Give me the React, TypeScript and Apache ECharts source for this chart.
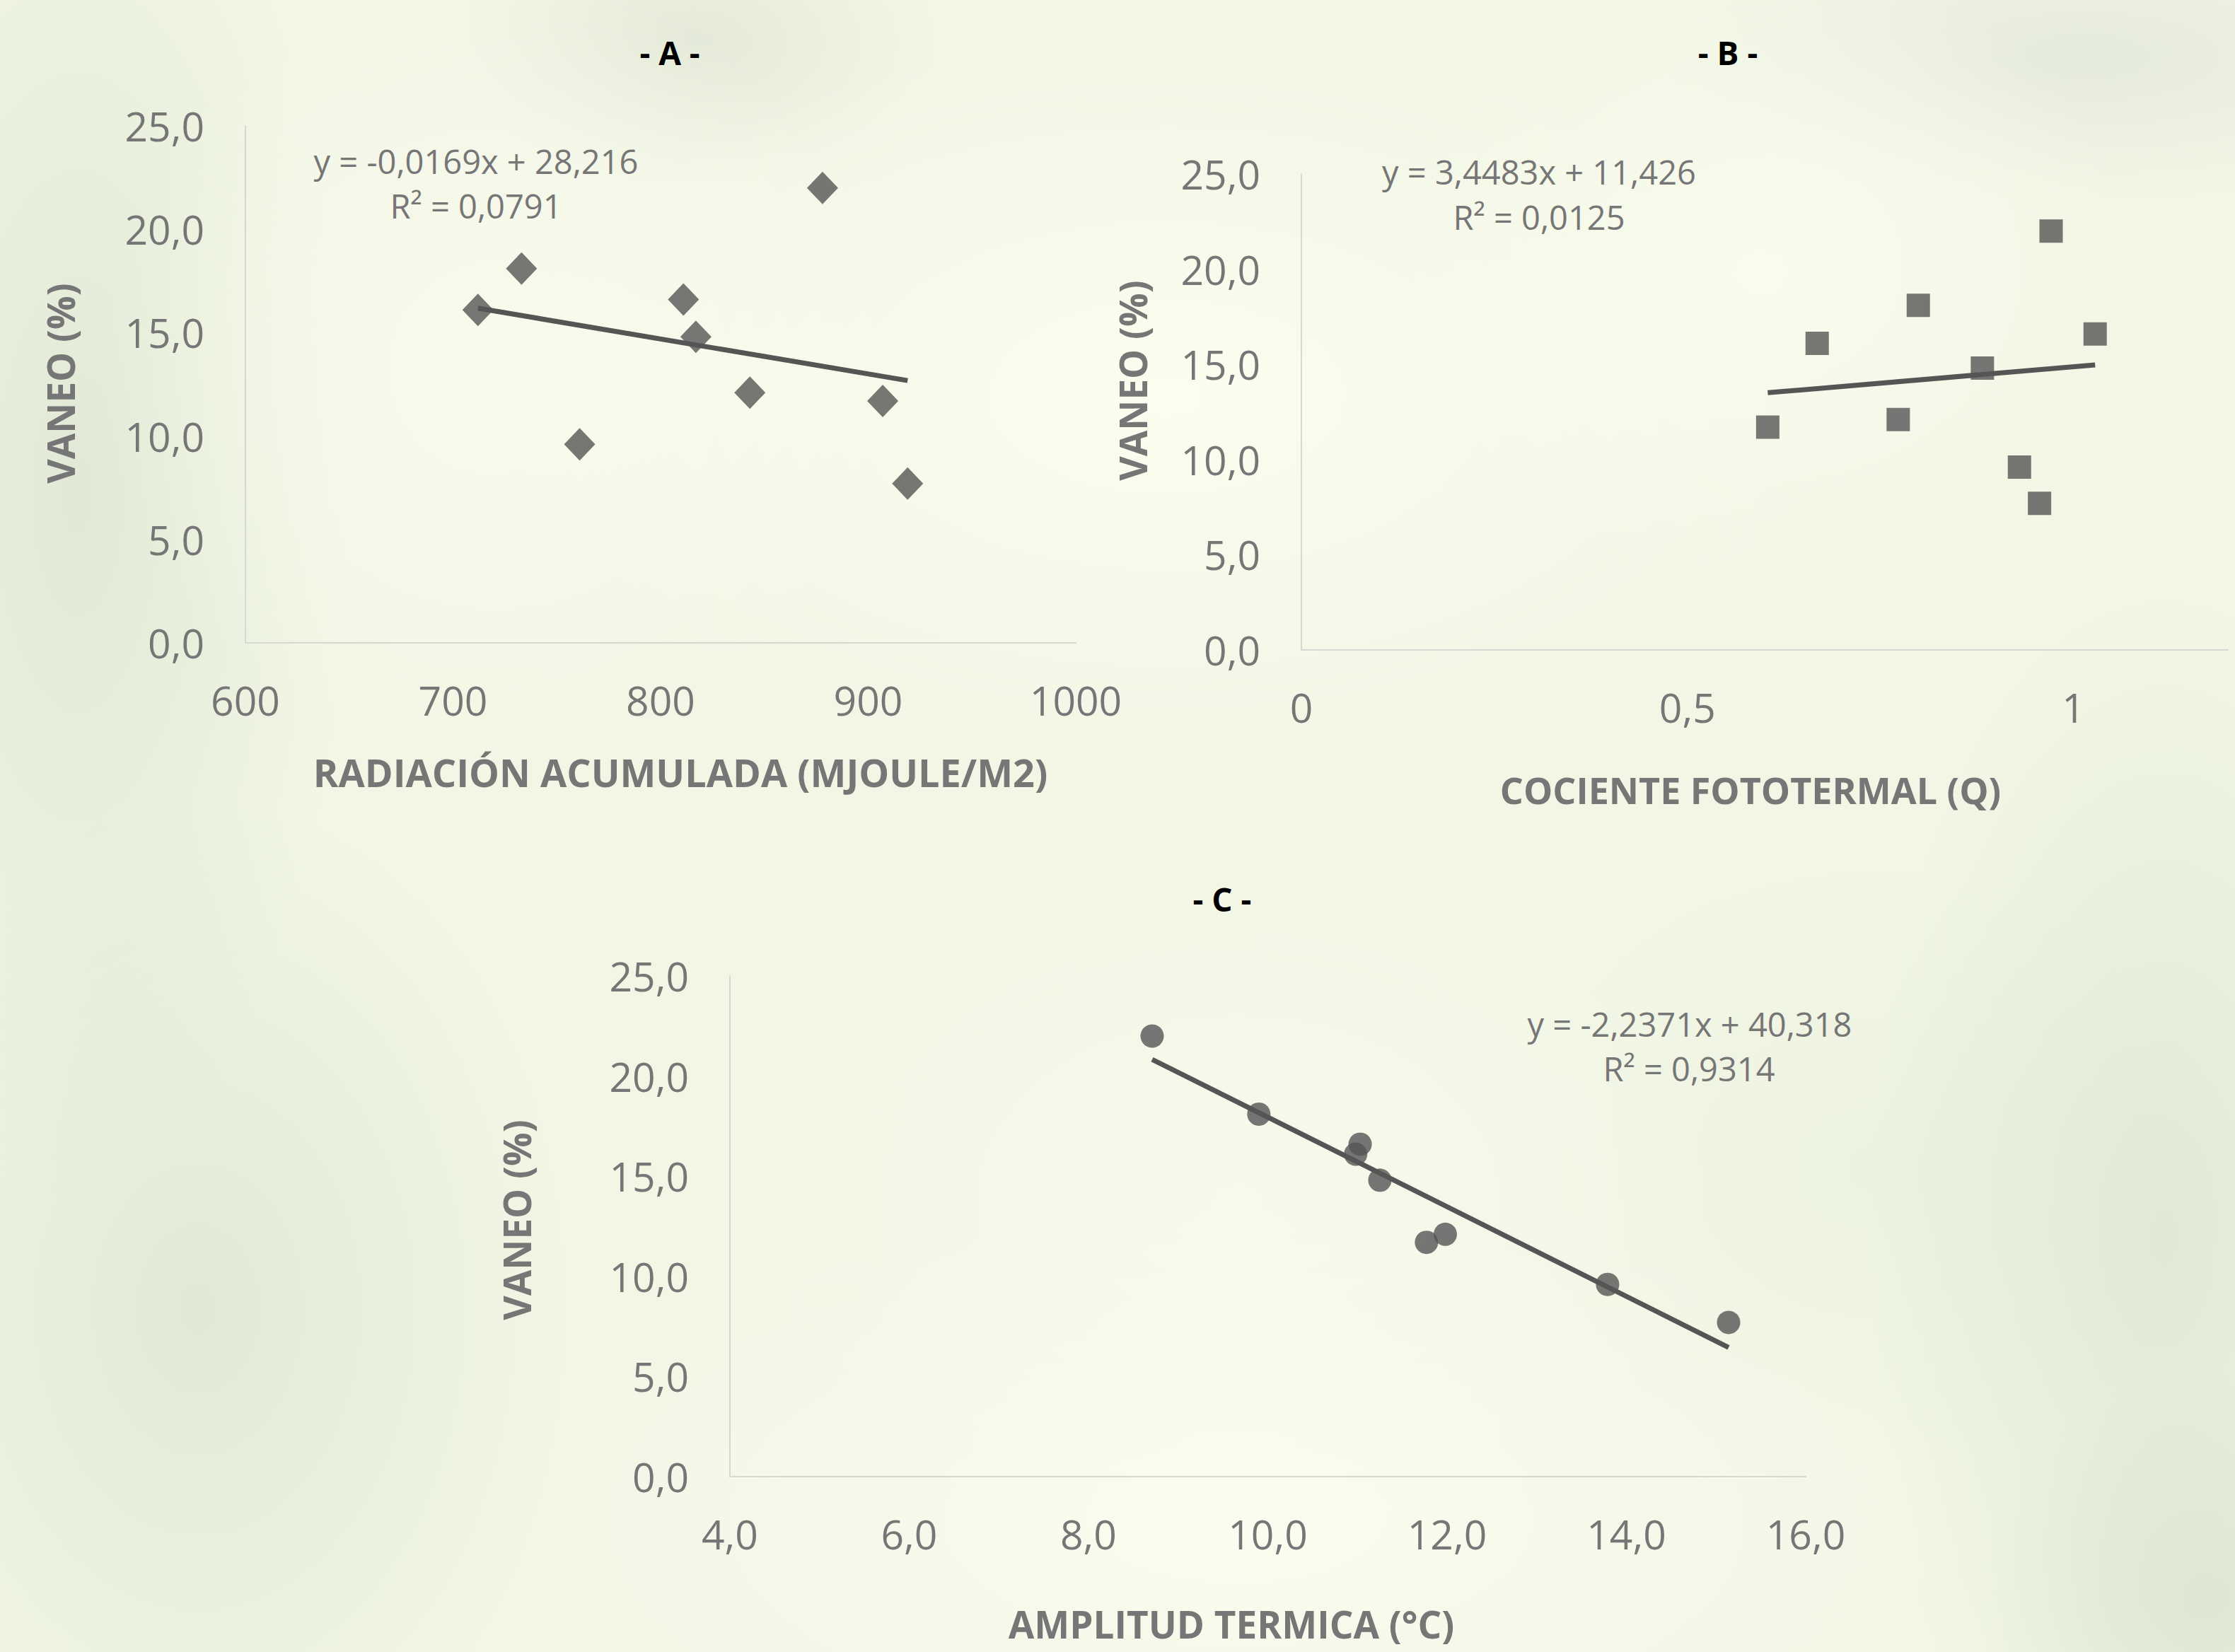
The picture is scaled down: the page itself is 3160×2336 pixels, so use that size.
import React, { useEffect, useRef } from "react";
import * as echarts from "echarts";

// ---------- data ----------
const A_X = [712, 733, 761, 811, 817, 843, 878, 907, 919];
const A_Y = [16.1, 18.1, 9.6, 16.6, 14.8, 12.1, 22.0, 11.7, 7.7];
const B_X = [0.604, 0.668, 0.773, 0.799, 0.882, 0.93, 0.956, 0.971, 1.028];
const B_Y = [11.7, 16.1, 12.1, 18.1, 14.8, 9.6, 7.7, 22.0, 16.6];
const C_X = [8.71, 9.9, 10.98, 11.03, 11.25, 11.77, 11.98, 13.79, 15.14];
const C_Y = [22.0, 18.1, 16.1, 16.6, 14.8, 11.7, 12.1, 9.6, 7.7];

const A_SLOPE = -0.0169;
const A_INTERCEPT = 28.216;
const B_SLOPE = 3.4483;
const B_INTERCEPT = 11.426;
const C_SLOPE = -2.2371;
const C_INTERCEPT = 40.318;

const PANEL_TITLES = ["- A -", "- B -", "- C -"];
const X_TITLES = [
  "RADIACIÓN ACUMULADA (MJOULE/M2)",
  "COCIENTE FOTOTERMAL (Q)",
  "AMPLITUD TERMICA (°C)",
];
const Y_TITLE = "VANEO (%)";
const EQUATIONS = [
  "y = -0,0169x + 28,216",
  "y = 3,4483x + 11,426",
  "y = -2,2371x + 40,318",
];
const R2_TEXTS = ["R² = 0,0791", "R² = 0,0125", "R² = 0,9314"];

// ---------- styling ----------
const FONT = '"Open Sans", "Noto Sans", sans-serif';
const MARK = "#555555";
const LABEL = "#767676";
const AXIS_LINE = "#d6d9d2";

const pairs = (xs: number[], ys: number[]) => xs.map((x, i) => [x, ys[i]]);
const trend = (xs: number[], m: number, b: number) => {
  const lo = Math.min(...xs);
  const hi = Math.max(...xs);
  return [
    [lo, m * lo + b],
    [hi, m * hi + b],
  ];
};
const comma1 = (v: number) => v.toFixed(1).replace(".", ",");
const commaAny = (v: number) => String(v).replace(".", ",");

const blob = (rx: number, ry: number, x: number, y: number, c: string, a: number) =>
  `radial-gradient(ellipse ${rx}px ${ry}px at ${x}px ${y}px, rgba(${c},${a}), rgba(${c},0))`;

const BG = [
  blob(950, 520, 1650, 560, "252,254,240", 0.95),
  blob(1050, 450, 1750, 2150, "251,253,240", 0.9),
  blob(560, 560, 700, 520, "250,252,238", 0.85),
  blob(520, 440, 2500, 380, "250,253,238", 0.9),
  blob(700, 500, 1750, 1700, "249,252,238", 0.7),
  blob(380, 1000, 110, 700, "216,226,206", 0.65),
  blob(520, 720, 280, 1850, "218,228,208", 0.7),
  blob(420, 900, 3060, 1750, "216,227,206", 0.65),
  blob(320, 320, 3120, 2260, "208,222,194", 0.55),
  blob(600, 200, 2950, 80, "222,228,214", 0.65),
  blob(340, 200, 980, 60, "216,222,206", 0.55),
  blob(500, 420, 2650, 1650, "230,237,220", 0.45),
].join(", ");

export default function App() {
  const ref = useRef<HTMLDivElement>(null);

  useEffect(() => {
    if (!ref.current) return;
    const chart = echarts.init(ref.current, null, { renderer: "svg" });

    const grids = [
      { left: 347, top: 178, width: 1174, height: 731 },
      { left: 1840, top: 246, width: 1310, height: 673 },
      { left: 1032, top: 1380, width: 1521, height: 708 },
    ];

    const xAxisBase = {
      type: "value",
      axisLine: { show: true, lineStyle: { color: AXIS_LINE, width: 2 } },
      axisTick: { show: false },
      splitLine: { show: false },
    };
    const yAxisBase = {
      type: "value",
      min: 0,
      max: 25,
      interval: 5,
      axisLine: { show: true, lineStyle: { color: AXIS_LINE, width: 2 } },
      axisTick: { show: false },
      splitLine: { show: false },
      axisLabel: {
        color: LABEL,
        fontFamily: FONT,
        fontSize: 57,
        margin: 58,
        formatter: (v: number) => comma1(v),
      },
    };
    const xLabel = (fmt: (v: number) => string) => ({
      color: LABEL,
      fontFamily: FONT,
      fontSize: 57,
      margin: 52,
      formatter: fmt,
    });

    const textEl = (
      text: string,
      x: number,
      y: number,
      size: number,
      weight: string,
      fill: string,
      rotation = 0
    ) => ({
      type: "text",
      x,
      y,
      rotation,
      z: 100,
      style: {
        text,
        fill,
        fontFamily: FONT,
        fontSize: size,
        fontWeight: weight,
        align: "center",
        verticalAlign: "middle",
      },
    });

    const graphic = [
      textEl(PANEL_TITLES[0], 947, 74, 46, "bold", "#000000"),
      textEl(PANEL_TITLES[1], 2443, 74, 46, "bold", "#000000"),
      textEl(PANEL_TITLES[2], 1728, 1271, 46, "bold", "#000000"),
      textEl(X_TITLES[0], 962, 1092, 54, "bold", LABEL),
      textEl(X_TITLES[1], 2475, 1116, 52, "bold", LABEL),
      textEl(X_TITLES[2], 1741, 2296, 53, "bold", LABEL),
      textEl(Y_TITLE, 85, 542, 53, "bold", LABEL, Math.PI / 2),
      textEl(Y_TITLE, 1601, 538, 53, "bold", LABEL, Math.PI / 2),
      textEl(Y_TITLE, 730, 1725, 53, "bold", LABEL, Math.PI / 2),
      textEl(EQUATIONS[0], 673, 228, 47, "normal", LABEL),
      textEl(R2_TEXTS[0], 673, 291, 47, "normal", LABEL),
      textEl(EQUATIONS[1], 2176, 243, 47, "normal", LABEL),
      textEl(R2_TEXTS[1], 2176, 307, 47, "normal", LABEL),
      textEl(EQUATIONS[2], 2389, 1448, 47, "normal", LABEL),
      textEl(R2_TEXTS[2], 2388, 1511, 47, "normal", LABEL),
    ];

    const lineSeries = (i: number, data: number[][]) => ({
      type: "line",
      xAxisIndex: i,
      yAxisIndex: i,
      data,
      symbol: "none",
      lineStyle: { color: MARK, width: 7 },
      z: 3,
    });

    const option = {
      animation: false,
      grid: grids,
      xAxis: [
        {
          ...xAxisBase,
          gridIndex: 0,
          min: 600,
          max: 1000,
          interval: 100,
          axisLabel: xLabel((v: number) => String(v)),
        },
        {
          ...xAxisBase,
          gridIndex: 1,
          min: 0,
          max: 1.2,
          interval: 0.5,
          axisLabel: { ...xLabel((v: number) => commaAny(v)), showMaxLabel: false },
        },
        {
          ...xAxisBase,
          gridIndex: 2,
          min: 4,
          max: 16,
          interval: 2,
          axisLabel: xLabel((v: number) => comma1(v)),
        },
      ],
      yAxis: [
        { ...yAxisBase, gridIndex: 0 },
        { ...yAxisBase, gridIndex: 1 },
        { ...yAxisBase, gridIndex: 2 },
      ],
      series: [
        lineSeries(0, trend(A_X, A_SLOPE, A_INTERCEPT)),
        lineSeries(1, trend(B_X, B_SLOPE, B_INTERCEPT)),
        lineSeries(2, trend(C_X, C_SLOPE, C_INTERCEPT)),
        {
          type: "scatter",
          xAxisIndex: 0,
          yAxisIndex: 0,
          data: pairs(A_X, A_Y),
          symbol: "diamond",
          symbolSize: [44, 46],
          itemStyle: { color: MARK },
          z: 2,
        },
        {
          type: "scatter",
          xAxisIndex: 1,
          yAxisIndex: 1,
          data: pairs(B_X, B_Y),
          symbol: "rect",
          symbolSize: 33,
          itemStyle: { color: MARK },
          z: 2,
        },
        {
          type: "scatter",
          xAxisIndex: 2,
          yAxisIndex: 2,
          data: pairs(C_X, C_Y),
          symbol: "circle",
          symbolSize: 33,
          itemStyle: { color: MARK },
          z: 2,
        },
      ],
      graphic,
    };

    chart.setOption(option as any);
    return () => chart.dispose();
  }, []);

  return (
    <div
      ref={ref}
      style={{
        position: "absolute",
        left: 0,
        top: 0,
        width: 3160,
        height: 2336,
        backgroundColor: "#f2f6e5",
        backgroundImage: BG,
      }}
    />
  );
}
